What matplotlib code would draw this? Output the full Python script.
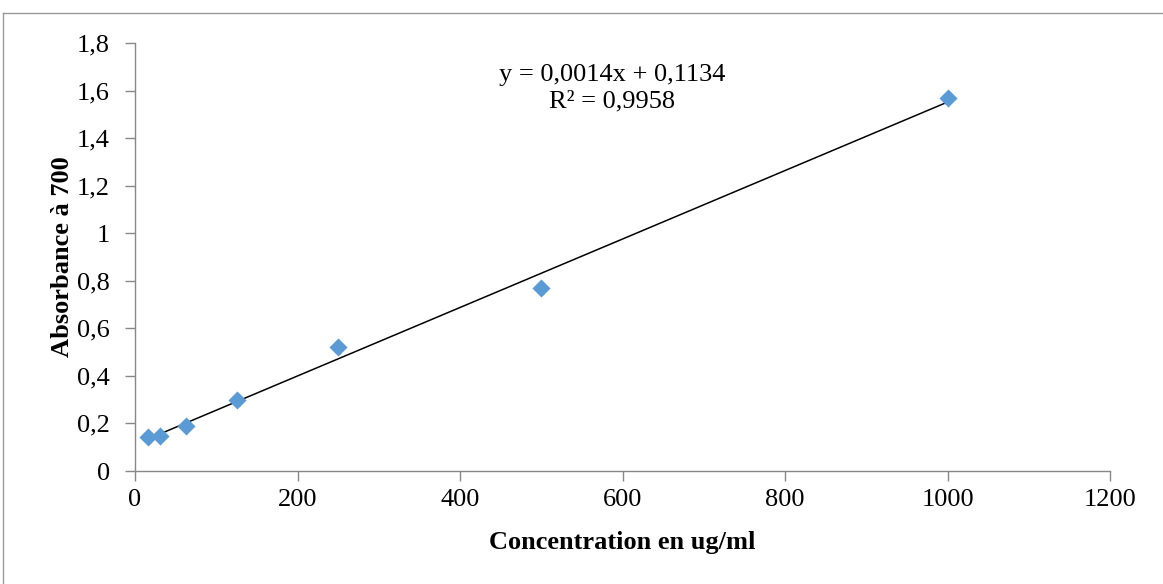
import numpy as np
import matplotlib
matplotlib.use("Agg")
import matplotlib.pyplot as plt
from matplotlib.lines import Line2D

# concentration (ug/ml) and absorbance at 700 nm
conc = [15.625, 31.25, 62.5, 125, 250, 500, 1000]
absorb = [0.143, 0.147, 0.189, 0.299, 0.521, 0.770, 1.570]

x_ticks = [0, 200, 400, 600, 800, 1000, 1200]
y_ticks = [0, 0.2, 0.4, 0.6, 0.8, 1.0, 1.2, 1.4, 1.6, 1.8]
y_labels = ["0", "0,2", "0,4", "0,6", "0,8", "1", "1,2", "1,4", "1,6", "1,8"]

plt.rcParams["font.family"] = ["Liberation Serif", "DejaVu Serif"]

fig = plt.figure(figsize=(11.63, 5.84), dpi=100)
ax = fig.add_axes([135 / 1163, 1 - 471 / 584, 975 / 1163, 428 / 584])

# linear trendline
slope, intercept = np.polyfit(conc, absorb, 1)
xl = np.array([conc[0], conc[-1]])
ax.plot(xl, slope * xl + intercept, color="black", lw=1.1, zorder=2)

ax.scatter(conc, absorb, marker="D", s=85, color="#5B9BD5", zorder=3, linewidths=0)

ax.set_xlim(0, 1200)
ax.set_ylim(0, 1.8)
ax.set_xticks(x_ticks)
ax.set_xticklabels([str(t) for t in x_ticks])
ax.set_yticks(y_ticks)
ax.set_yticklabels(y_labels)
ax.tick_params(labelsize=19, direction="out", length=7, color="#888888", width=1)
ax.tick_params(axis="y", pad=11)
ax.tick_params(axis="x", pad=6)

for s in ["top", "right"]:
    ax.spines[s].set_visible(False)
for s in ["left", "bottom"]:
    ax.spines[s].set_color("#888888")
    ax.spines[s].set_linewidth(1)

ax.set_xlabel("Concentration en ug/ml", fontsize=19, fontweight="bold", labelpad=14)
ax.set_ylabel("Absorbance à 700", fontsize=19, fontweight="bold", labelpad=2)

ax.text(0.489, 0.895, "y = 0,0014x + 0,1134\nR² = 0,9958", transform=ax.transAxes,
        ha="center", va="center", fontsize=19, linespacing=1.25)

# chart frame (top and left edges visible)
fig.add_artist(Line2D([3 / 1163, 1], [1 - 13 / 584, 1 - 13 / 584], color="#999999", lw=1))
fig.add_artist(Line2D([3 / 1163, 3 / 1163], [0, 1 - 13 / 584], color="#999999", lw=1))

fig.savefig("out.png", dpi=100)
